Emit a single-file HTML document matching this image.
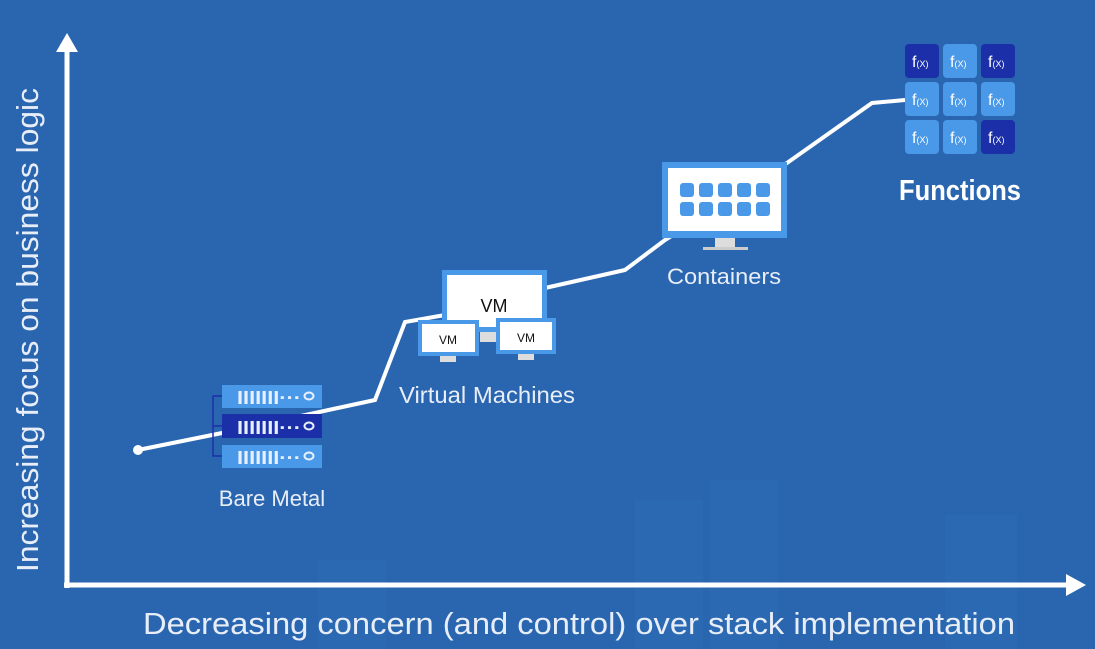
<!DOCTYPE html>
<html><head><meta charset="utf-8"><style>
html,body{margin:0;padding:0;background:#2a66b0;}
svg{display:block}
text{font-family:"Liberation Sans","DejaVu Sans",sans-serif;}
</style></head><body>
<svg width="1095" height="649" viewBox="0 0 1095 649" xmlns="http://www.w3.org/2000/svg">
<rect width="1095" height="649" fill="#2a66b0"/>
<g fill="#2c69b3">
<rect x="318" y="560" width="68" height="89"/>
<rect x="635" y="500" width="68" height="149"/>
<rect x="710" y="480" width="68" height="169"/>
<rect x="945" y="515" width="72" height="134"/>
</g>
<line x1="67" y1="588" x2="67" y2="48" stroke="#fff" stroke-width="5"/>
<polygon points="56,52 67,33 78,52" fill="#fff"/>
<line x1="64" y1="585" x2="1070" y2="585" stroke="#fff" stroke-width="5"/>
<polygon points="1066,574 1086,585 1066,596" fill="#fff"/>
<text x="143" y="634" fill="#e8eef8" font-size="31" textLength="872" lengthAdjust="spacingAndGlyphs">Decreasing concern (and control) over stack implementation</text>
<text transform="translate(38,572) rotate(-90)" fill="#e8eef8" font-size="31" textLength="484" lengthAdjust="spacingAndGlyphs">Increasing focus on business logic</text>
<polyline points="138,450 222,433 375,400 405,322 445,315 545,288 625,270 665,240 787,163 872,103 905,100" fill="none" stroke="#fff" stroke-width="4"/>
<circle cx="138" cy="450" r="5" fill="#fff"/>
<path d="M222,396 H213 V456 H222 M213,426 H222" fill="none" stroke="#1a2fa8" stroke-width="1.5"/>
<rect x="222" y="385" width="100" height="23" fill="#4a98e8"/>
<rect x="222" y="414" width="100" height="24" fill="#1a2fa8"/>
<rect x="222" y="445" width="100" height="23" fill="#4a98e8"/>
<g fill="#e8f0ff">
<text x="237" y="404" font-size="18" font-weight="bold" textLength="64" lengthAdjust="spacingAndGlyphs">IIIIIII···</text>
<text x="237" y="434" font-size="18" font-weight="bold" textLength="64" lengthAdjust="spacingAndGlyphs">IIIIIII···</text>
<text x="237" y="464" font-size="18" font-weight="bold" textLength="64" lengthAdjust="spacingAndGlyphs">IIIIIII···</text>
</g>
<g fill="none" stroke="#e8f0ff" stroke-width="2">
<ellipse cx="309" cy="396" rx="4.5" ry="3.5"/><ellipse cx="309" cy="426" rx="4.5" ry="3.5"/><ellipse cx="309" cy="456" rx="4.5" ry="3.5"/>
</g>
<text x="272" y="506" fill="#e8eef8" font-size="22" text-anchor="middle">Bare Metal</text>
<rect x="442" y="270" width="105" height="62" fill="#4a98e8"/>
<rect x="447" y="275" width="95" height="52" fill="#fff"/>
<rect x="480" y="332" width="26" height="10" fill="#ddd"/>
<text x="494" y="312" font-size="18" fill="#111" text-anchor="middle">VM</text>
<rect x="418" y="320" width="61" height="36" fill="#4a98e8"/>
<rect x="422" y="324" width="53" height="28" fill="#fff"/>
<rect x="440" y="356" width="16" height="6" fill="#ddd"/>
<text x="448" y="344" font-size="12" fill="#111" text-anchor="middle">VM</text>
<rect x="496" y="318" width="60" height="36" fill="#4a98e8"/>
<rect x="500" y="322" width="52" height="28" fill="#fff"/>
<rect x="518" y="354" width="16" height="6" fill="#ddd"/>
<text x="526" y="342" font-size="12" fill="#111" text-anchor="middle">VM</text>
<text x="487" y="403" fill="#e8eef8" font-size="23" text-anchor="middle" textLength="176" lengthAdjust="spacingAndGlyphs">Virtual Machines</text>
<rect x="662" y="162" width="125" height="76" fill="#4a98e8"/>
<rect x="668" y="168" width="113" height="63" fill="#fff"/>
<rect x="715" y="238" width="20" height="10" fill="#ddd"/>
<rect x="703" y="247" width="45" height="3" fill="#ccc"/>
<g fill="#4a98e8">
<rect x="680" y="183" width="14" height="14" rx="3"/><rect x="699" y="183" width="14" height="14" rx="3"/><rect x="718" y="183" width="14" height="14" rx="3"/><rect x="737" y="183" width="14" height="14" rx="3"/><rect x="756" y="183" width="14" height="14" rx="3"/>
<rect x="680" y="202" width="14" height="14" rx="3"/><rect x="699" y="202" width="14" height="14" rx="3"/><rect x="718" y="202" width="14" height="14" rx="3"/><rect x="737" y="202" width="14" height="14" rx="3"/><rect x="756" y="202" width="14" height="14" rx="3"/>
</g>
<text x="724" y="284" fill="#e8eef8" font-size="22" text-anchor="middle" textLength="114" lengthAdjust="spacingAndGlyphs">Containers</text>
<rect x="905" y="44" width="34" height="34" rx="4" fill="#1a2fa8"/>
<rect x="943" y="44" width="34" height="34" rx="4" fill="#4a98e8"/>
<rect x="981" y="44" width="34" height="34" rx="4" fill="#1a2fa8"/>
<rect x="905" y="82" width="34" height="34" rx="4" fill="#4a98e8"/>
<rect x="943" y="82" width="34" height="34" rx="4" fill="#4a98e8"/>
<rect x="981" y="82" width="34" height="34" rx="4" fill="#4a98e8"/>
<rect x="905" y="120" width="34" height="34" rx="4" fill="#4a98e8"/>
<rect x="943" y="120" width="34" height="34" rx="4" fill="#4a98e8"/>
<rect x="981" y="120" width="34" height="34" rx="4" fill="#1a2fa8"/>
<g fill="#fff" font-size="16">
<text x="912" y="67">f<tspan font-size="9">(X)</tspan></text>
<text x="950" y="67">f<tspan font-size="9">(X)</tspan></text>
<text x="988" y="67">f<tspan font-size="9">(X)</tspan></text>
<text x="912" y="105">f<tspan font-size="9">(X)</tspan></text>
<text x="950" y="105">f<tspan font-size="9">(X)</tspan></text>
<text x="988" y="105">f<tspan font-size="9">(X)</tspan></text>
<text x="912" y="143">f<tspan font-size="9">(X)</tspan></text>
<text x="950" y="143">f<tspan font-size="9">(X)</tspan></text>
<text x="988" y="143">f<tspan font-size="9">(X)</tspan></text>
</g>
<text x="899" y="200" fill="#fff" font-size="29" font-weight="bold" textLength="122" lengthAdjust="spacingAndGlyphs">Functions</text>
</svg>
</body></html>
